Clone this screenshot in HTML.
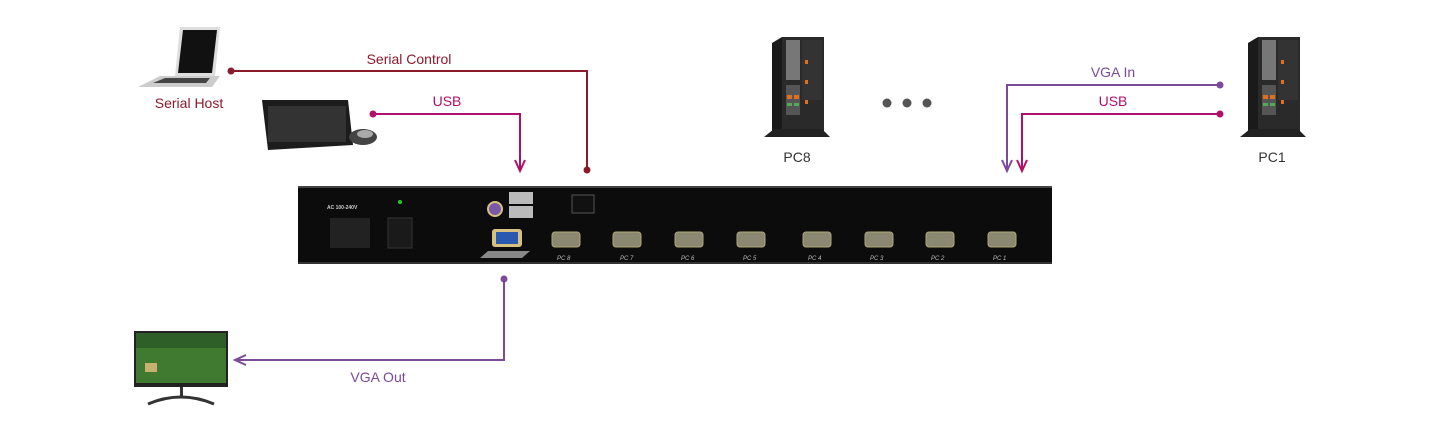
<!DOCTYPE html>
<html><head><meta charset="utf-8"><style>
html,body{margin:0;padding:0;background:#fff;}
svg{display:block;font-family:"Liberation Sans",sans-serif;}
</style></head><body>
<svg width="1450" height="427" viewBox="0 0 1450 427" xmlns="http://www.w3.org/2000/svg">
<defs>
<g id="tower">
 <polygon points="8,8 18,2 60,2 60,96 8,96" fill="#1a1a1a"/>
 <rect x="18" y="2" width="42" height="94" fill="#2a2a2a"/>
 <rect x="22" y="5" width="14" height="40" fill="#777"/>
 <rect x="38" y="5" width="20" height="60" fill="#333"/>
 <rect x="22" y="50" width="14" height="30" fill="#555"/>
 <rect x="23" y="60" width="5" height="4" fill="#e07020"/><rect x="30" y="60" width="5" height="4" fill="#e07020"/>
 <rect x="23" y="68" width="5" height="3" fill="#5a5"/><rect x="30" y="68" width="5" height="3" fill="#5a5"/>
 <rect x="41" y="25" width="3" height="4" fill="#e07020"/><rect x="41" y="45" width="3" height="4" fill="#e07020"/><rect x="41" y="65" width="3" height="4" fill="#e07020"/>
 <polygon points="0,102 10,94 58,94 66,102" fill="#222"/>
</g>
</defs>

<!-- laptop -->
<polygon points="180,27 220,27 215,76 175,76" fill="#ddd"/>
<polygon points="183,30 217,30 212,73 178,73" fill="#111"/>
<polygon points="160,76 220,76 212,87 138,87" fill="#ccc"/>
<polygon points="165,78 210,78 206,83 153,83" fill="#444"/>
<text x="189" y="108" font-size="14" fill="#8b1a2b" text-anchor="middle">Serial Host</text>

<!-- keyboard -->
<polygon points="262,100 348,100 353,145 268,150" fill="#1c1c1c"/>
<rect x="268" y="106" width="78" height="36" fill="#333"/>
<ellipse cx="363" cy="137" rx="14" ry="8" fill="#444"/>
<ellipse cx="365" cy="134" rx="8" ry="4" fill="#aaa"/>

<!-- serial control -->
<g stroke="#8b1a2b" stroke-width="2" fill="none"><polyline points="231,71 587,71 587,170"/></g>
<circle cx="231" cy="71" r="3.5" fill="#8b1a2b"/><circle cx="587" cy="170" r="3.5" fill="#8b1a2b"/>
<text x="409" y="64" font-size="14" fill="#8b1a2b" text-anchor="middle">Serial Control</text>

<!-- USB left -->
<g stroke="#b0106a" stroke-width="2" fill="none"><polyline points="373,114 520,114 520,170"/><polyline points="515,160 520,171 525,160"/></g>
<circle cx="373" cy="114" r="3.5" fill="#b0106a"/>
<text x="447" y="106" font-size="14" fill="#b0106a" text-anchor="middle">USB</text>

<!-- VGA In / USB right -->
<g stroke="#7b4a9a" stroke-width="2" fill="none"><polyline points="1220,85 1007,85 1007,170"/><polyline points="1002,160 1007,171 1012,160"/></g>
<circle cx="1220" cy="85" r="3.5" fill="#7b4a9a"/>
<text x="1113" y="77" font-size="14" fill="#7b4a9a" text-anchor="middle">VGA In</text>
<g stroke="#b0106a" stroke-width="2" fill="none"><polyline points="1220,114 1022,114 1022,170"/><polyline points="1017,160 1022,171 1027,160"/></g>
<circle cx="1220" cy="114" r="3.5" fill="#b0106a"/>
<text x="1113" y="106" font-size="14" fill="#b0106a" text-anchor="middle">USB</text>

<!-- towers -->
<use href="#tower" x="764" y="35"/>
<text x="797" y="162" font-size="14" fill="#333" text-anchor="middle">PC8</text>
<use href="#tower" x="1240" y="35"/>
<text x="1272" y="162" font-size="14" fill="#333" text-anchor="middle">PC1</text>
<circle cx="887" cy="103" r="4.5" fill="#555"/><circle cx="907" cy="103" r="4.5" fill="#555"/><circle cx="927" cy="103" r="4.5" fill="#555"/>

<!-- KVM chassis -->
<rect x="298" y="186" width="754" height="78" fill="#0c0c0c"/>
<rect x="298" y="186" width="754" height="2" fill="#444"/>
<rect x="298" y="262" width="754" height="2" fill="#333"/>
<text x="327" y="209" font-size="5" fill="#ccc" font-weight="bold">AC 100-240V</text>
<rect x="330" y="218" width="40" height="30" fill="#222"/>
<rect x="388" y="218" width="24" height="30" fill="#1a1a1a" stroke="#333"/>
<circle cx="400" cy="202" r="2" fill="#2c2"/>
<circle cx="495" cy="209" r="8" fill="#d8c080"/><circle cx="495" cy="209" r="6" fill="#7a5aa8"/>
<rect x="509" y="192" width="24" height="12" fill="#bbb"/><rect x="509" y="206" width="24" height="12" fill="#bbb"/>
<rect x="572" y="195" width="22" height="18" fill="#111" stroke="#555"/>
<rect x="492" y="229" width="30" height="18" rx="3" fill="#d8c080"/><rect x="496" y="232" width="22" height="12" fill="#2a5ab0"/>
<polygon points="488,251 530,251 522,258 480,258" fill="#888"/>
<g fill="#8a8870" stroke="#b0a878">
 <rect x="552" y="232" width="28" height="15" rx="3"/><rect x="613" y="232" width="28" height="15" rx="3"/>
 <rect x="675" y="232" width="28" height="15" rx="3"/><rect x="737" y="232" width="28" height="15" rx="3"/>
 <rect x="803" y="232" width="28" height="15" rx="3"/><rect x="865" y="232" width="28" height="15" rx="3"/>
 <rect x="926" y="232" width="28" height="15" rx="3"/><rect x="988" y="232" width="28" height="15" rx="3"/>
</g>
<g font-size="6" fill="#bbb" font-style="italic">
 <text x="557" y="260">PC 8</text><text x="620" y="260">PC 7</text><text x="681" y="260">PC 6</text><text x="743" y="260">PC 5</text>
 <text x="808" y="260">PC 4</text><text x="870" y="260">PC 3</text><text x="931" y="260">PC 2</text><text x="993" y="260">PC 1</text>
</g>

<!-- VGA out -->
<g stroke="#7b4a9a" stroke-width="2" fill="none"><polyline points="504,279 504,360 235,360"/><polyline points="246,355 235,360 246,365"/></g>
<circle cx="504" cy="279" r="3.5" fill="#7b4a9a"/>
<text x="378" y="382" font-size="14" fill="#7b4a9a" text-anchor="middle">VGA Out</text>

<!-- monitor -->
<rect x="134" y="331" width="94" height="56" fill="#222"/>
<rect x="136" y="333" width="90" height="50" fill="#3f7a30"/>
<rect x="136" y="333" width="90" height="15" fill="#2e5f28"/>
<rect x="145" y="363" width="12" height="9" fill="#c8b070"/>
<rect x="180" y="387" width="3" height="10" fill="#333"/>
<path d="M148,404 Q181,390 214,404" stroke="#333" stroke-width="3" fill="none"/>
</svg>
</body></html>
